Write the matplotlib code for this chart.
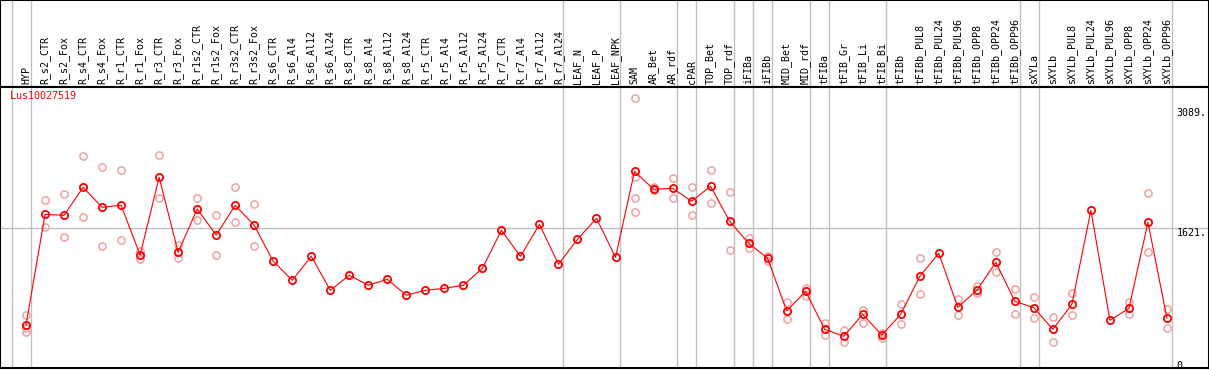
import matplotlib.pyplot as plt

# tissue / condition labels
labels = ["HYP", "R_s2_CTR", "R_s2_Fox", "R_s4_CTR", "R_s4_Fox", "R_r1_CTR", "R_r1_Fox",
          "R_r3_CTR", "R_r3_Fox", "R_r1s2_CTR", "R_r1s2_Fox", "R_r3s2_CTR", "R_r3s2_Fox",
          "R_s6_CTR", "R_s6_Al4", "R_s6_Al12", "R_s6_Al24", "R_s8_CTR", "R_s8_Al4",
          "R_s8_Al12", "R_s8_Al24", "R_r5_CTR", "R_r5_Al4", "R_r5_Al12", "R_r5_Al24",
          "R_r7_CTR", "R_r7_Al4", "R_r7_Al12", "R_r7_Al24", "LEAF_N", "LEAF_P", "LEAF_NPK",
          "SAM", "AR_Bet", "AR_rdf", "cPAR", "TOP_Bet", "TOP_rdf", "iFIBa", "iFIBb",
          "MID_Bet", "MID_rdf", "tFIBa", "tFIB_Gr", "tFIB_Li", "tFIB_Bi", "tFIBb",
          "tFIBb_PUL8", "tFIBb_PUL24", "tFIBb_PUL96", "tFIBb_OPP8", "tFIBb_OPP24",
          "tFIBb_OPP96", "sXYLa", "sXYLb", "sXYLb_PUL8", "sXYLb_PUL24", "sXYLb_PUL96",
          "sXYLb_OPP8", "sXYLb_OPP24", "sXYLb_OPP96"]

# mean expression
means = [439, 1788, 1776, 2117, 1874, 1898, 1292, 2239, 1325, 1853, 1536, 1898, 1654,
         1215, 984, 1276, 862, 1045, 923, 996, 801, 862, 886, 923, 1130,
         1593, 1276, 1666, 1179, 1484, 1740, 1264,
         2312, 2093, 2105, 1947, 2130, 1703, 1435, 1252,
         610, 850, 386, 301, 569, 317, 569,
         1032, 1313, 655, 862, 1203, 728, 650, 386,
         691, 1837, 496, 642, 1691, 521]

# single replicates (light circles)
reps = [[561, 400, 355], [1962, 1630], [2032, 1512], [2495, 1755], [2361, 1402],
        [2325, 1471], [1341, 1240], [2508, 1983], [1414, 1252], [1983, 1715],
        [1776, 1292], [2117, 1691], [1910, 1402],
        [], [], [], [], [], [], [], [], [], [], [], [], [], [], [], [], [], [], [],
        [3206, 2247, 1983, 1813], [2125, 2085], [2227, 1983], [2117, 1776],
        [2325, 1922], [2056, 1349], [1496, 1381], [1284, 1223],
        [716, 508], [890, 796], [460, 317], [378, 235], [622, 467], [345, 277],
        [691, 447], [1252, 813], [], [759, 557], [914, 825], [1325, 1089],
        [881, 569], [777, 528], [540, 228], [825, 557], [], [], [716, 569],
        [2044, 1332], [630, 406]]

# last index of each sample group
group_ends = [-1, 0, 28, 31, 34, 35, 37, 38, 39, 41, 42, 45, 52, 53, 60]

gene = "Lus10027519"
mid_val = 1621
max_val = 3089

grey = "#c0c0c0"
light = "#f2a0a0"
mono = "DejaVu Sans Mono"

fig = plt.figure(figsize=(12.09, 3.70), dpi=100)
W, H = 1209, 370
x_lo = -26 / 19
x_hi = (1208 - 26) / 19

# header with labels
hdr = fig.add_axes([0, (H - 87) / H, 1, 87 / H])
hdr.set_xlim(x_lo, x_hi)
hdr.set_ylim(0, 1)
hdr.set_xticks([])
hdr.set_yticks([])
for s in hdr.spines.values():
    s.set_color("black")
    s.set_linewidth(1.5)
for k in group_ends:
    hdr.axvline(k + 0.25, color=grey, lw=1)
for i, lab in enumerate(labels):
    hdr.text(i, 0.035, lab, rotation=90, ha="center", va="bottom",
             fontsize=7.2, family=mono)

# main plot
ax = fig.add_axes([0, 2 / H, 1, (368 - 87) / H])
ax.set_xlim(x_lo, x_hi)
ax.set_ylim(-7 * 12.19, (361 - 87) * 12.19)
ax.set_xticks([])
ax.set_yticks([])
for s in ax.spines.values():
    s.set_color("black")
    s.set_linewidth(1.5)
for k in group_ends:
    ax.axvline(k + 0.25, color=grey, lw=1)
ax.axhline(mid_val, color=grey, lw=1)

for i, vals in enumerate(reps):
    ax.plot([i] * len(vals), vals, "o", ms=5.2, mfc="none", mec=light, mew=1.1)

x = list(range(len(means)))
ax.plot(x, means, "-", color="red", lw=0.8)
ax.plot(x, means, "o", ms=5.2, mfc="none", mec="red", mew=1.3)

tr = ax.get_yaxis_transform()
for v in [max_val, mid_val]:
    ax.text(0.998, v, f"{v}.", transform=tr, ha="right", va="top", fontsize=7.2, family=mono)
ax.text(0.978, 0, "0", transform=tr, ha="right", va="top", fontsize=7.2, family=mono)

ax.text(10 / W, 0.985, gene, transform=ax.transAxes, color="red", ha="left", va="top",
        fontsize=7.2, family=mono)

fig.savefig("out.png", dpi=100)
